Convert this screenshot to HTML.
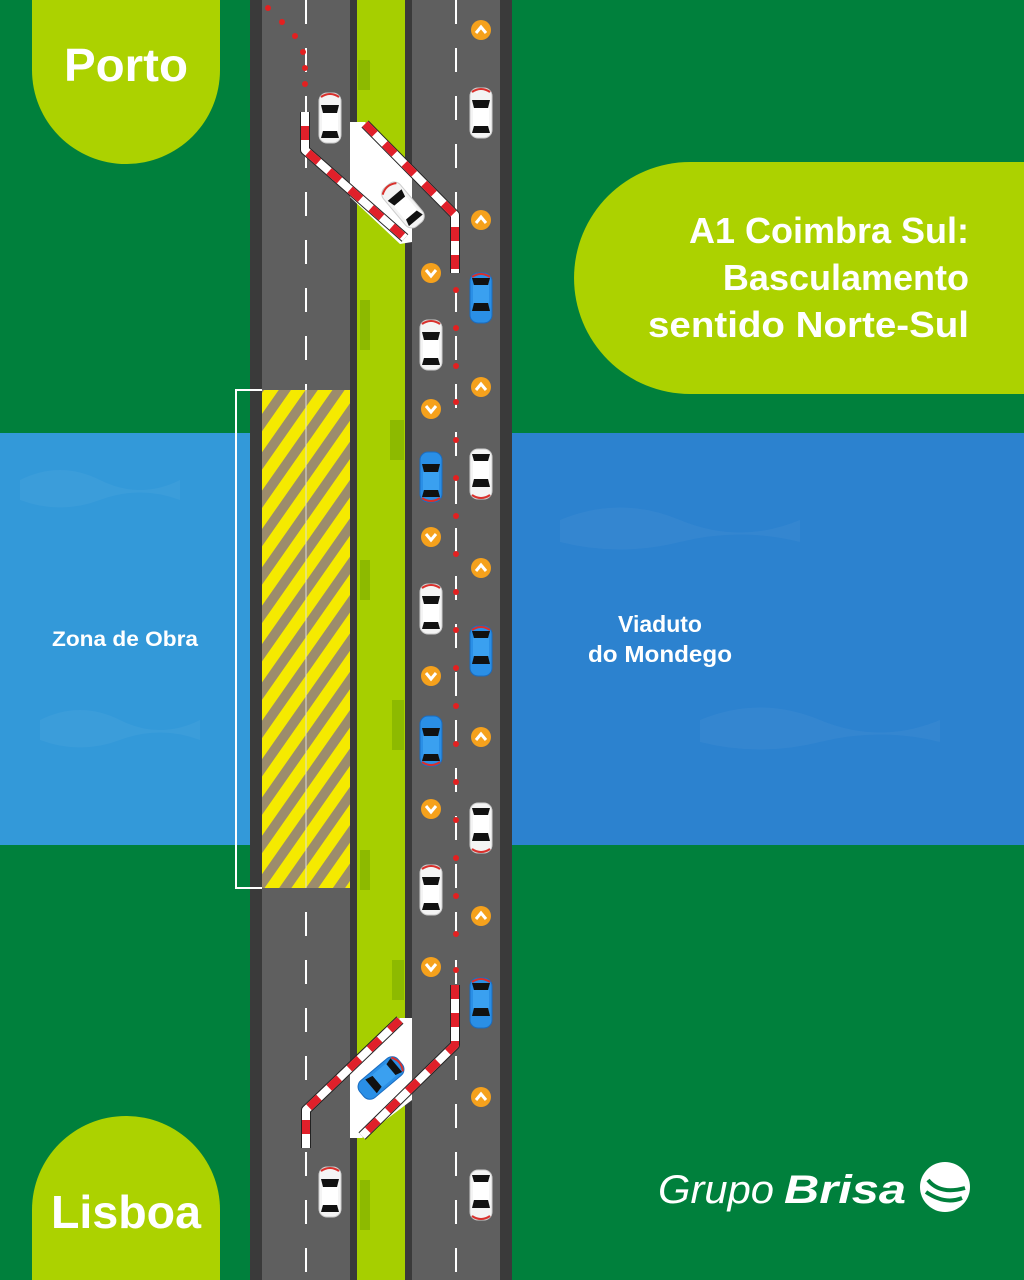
<!DOCTYPE html>
<html><head><meta charset="utf-8"><style>
html,body{margin:0;padding:0;background:#00803c;}
svg{display:block}
text{font-family:"Liberation Sans",sans-serif;font-weight:bold;fill:#fff}
</style></head><body>
<svg width="1024" height="1280" viewBox="0 0 1024 1280" xmlns="http://www.w3.org/2000/svg">
<defs>
<pattern id="hatch" patternUnits="userSpaceOnUse" width="22" height="22" patternTransform="rotate(35)">
<rect width="22" height="22" fill="#9c8c6c"/><rect width="12" height="22" fill="#f5ea00"/>
</pattern>
<g id="carW">
<rect x="-11" y="-25" width="22" height="50" rx="8" fill="#f4f4f4" stroke="#ccc" stroke-width="1"/>
<path d="M-9,-21 Q0,-27 9,-21" stroke="#d9302c" stroke-width="2" fill="none"/>
<path d="M-9,-13 L9,-13 L7,-5 L-7,-5 Z" fill="#111"/>
<rect x="-8" y="-5" width="16" height="18" fill="#fff"/>
<path d="M-7,13 L7,13 L9,20 L-9,20 Z" fill="#111"/>
</g>
<g id="carB">
<rect x="-11" y="-25" width="22" height="50" rx="8" fill="#2a8fe6" stroke="#1a6cc0" stroke-width="1"/>
<path d="M-9,-13 L9,-13 L7,-5 L-7,-5 Z" fill="#111"/>
<rect x="-8" y="-5" width="16" height="18" fill="#3aa0f0"/>
<path d="M-7,13 L7,13 L9,20 L-9,20 Z" fill="#111"/>
<path d="M-9,21 Q0,27 9,21" stroke="#d9302c" stroke-width="2" fill="none"/>
</g>
<g id="up"><circle r="10" fill="#f5a11c"/><path d="M-5,3 L0,-3 L5,3" stroke="#fff" stroke-width="3" fill="none"/></g>
<g id="dn"><circle r="10" fill="#f5a11c"/><path d="M-5,-3 L0,3 L5,-3" stroke="#fff" stroke-width="3" fill="none"/></g>
</defs>
<rect width="1024" height="1280" fill="#00803c"/>
<rect x="0" y="433" width="250" height="412" fill="#3399d9"/>
<rect x="512" y="433" width="512" height="412" fill="#2c82cf"/>
<g fill="#ffffff" opacity="0.04">
<path d="M20,480 q40,-20 80,0 t80,0 v20 q-40,-15 -80,0 t-80,0z"/>
<path d="M560,520 q60,-25 120,0 t120,0 v22 q-60,-15 -120,0 t-120,0z"/>
<path d="M700,720 q60,-25 120,0 t120,0 v22 q-60,-15 -120,0 t-120,0z"/>
<path d="M40,720 q40,-20 80,0 t80,0 v20 q-40,-15 -80,0 t-80,0z"/>
</g>
<path d="M32,0 H220 V70 A94,94 0 0 1 32,70 Z" fill="#acd200"/>
<path d="M32,1280 H220 V1210 A94,94 0 0 0 32,1210 Z" fill="#acd200"/>
<path d="M1024,162 H690 A116,116 0 0 0 690,394 H1024 Z" fill="#acd200"/>
<rect x="250" y="0" width="262" height="1280" fill="#3a3a3a"/>
<rect x="262" y="0" width="88" height="1280" fill="#5f5f5f"/>
<rect x="412" y="0" width="88" height="1280" fill="#5f5f5f"/>
<rect x="357" y="0" width="48" height="1280" fill="#a6cf00"/>
<g fill="#8dba00">
<rect x="358" y="60" width="12" height="30"/><rect x="392" y="160" width="12" height="40"/><rect x="360" y="300" width="10" height="50"/><rect x="390" y="420" width="14" height="40"/><rect x="360" y="560" width="10" height="40"/><rect x="392" y="700" width="12" height="50"/><rect x="360" y="850" width="10" height="40"/><rect x="392" y="960" width="12" height="40"/><rect x="360" y="1180" width="10" height="50"/>
</g>
<line x1="306" y1="0" x2="306" y2="1280" stroke="#fff" stroke-width="2" stroke-dasharray="24,24"/>
<line x1="456" y1="0" x2="456" y2="1280" stroke="#fff" stroke-width="2" stroke-dasharray="24,24"/>
<rect x="262" y="390" width="88" height="498" fill="url(#hatch)"/>
<line x1="306" y1="390" x2="306" y2="888" stroke="#ddd" stroke-width="1"/>
<path d="M262,390 H236 V888 H262" stroke="#fff" stroke-width="2" fill="none"/>
<g fill="#e32020">
<circle cx="268" cy="8" r="3"/><circle cx="282" cy="22" r="3"/><circle cx="295" cy="36" r="3"/><circle cx="303" cy="52" r="3"/><circle cx="305" cy="68" r="3"/><circle cx="305" cy="84" r="3"/>
<circle cx="456" cy="290" r="3"/><circle cx="456" cy="328" r="3"/><circle cx="456" cy="366" r="3"/><circle cx="456" cy="402" r="3"/><circle cx="456" cy="440" r="3"/><circle cx="456" cy="478" r="3"/><circle cx="456" cy="516" r="3"/><circle cx="456" cy="554" r="3"/><circle cx="456" cy="592" r="3"/><circle cx="456" cy="630" r="3"/><circle cx="456" cy="668" r="3"/><circle cx="456" cy="706" r="3"/><circle cx="456" cy="744" r="3"/><circle cx="456" cy="782" r="3"/><circle cx="456" cy="820" r="3"/><circle cx="456" cy="858" r="3"/><circle cx="456" cy="896" r="3"/><circle cx="456" cy="934" r="3"/><circle cx="456" cy="970" r="3"/>
</g>
<polygon points="350,122 365,122 412,170 412,242 400,244 350,197" fill="#fff"/>
<polygon points="400,1018 412,1018 412,1100 362,1138 350,1138 350,1065" fill="#fff"/>
<g stroke-width="8" fill="none" stroke-linejoin="round">
<path d="M305,112 V150 L405,238" stroke="#222" stroke-width="10"/>
<path d="M305,112 V150 L405,238" stroke="#fff"/>
<path d="M305,112 V150 L405,238" stroke="#e0202a" stroke-dasharray="14,14" stroke-dashoffset="-14"/>
<path d="M365,124 L455,215 V273" stroke="#222" stroke-width="10"/>
<path d="M365,124 L455,215 V273" stroke="#fff"/>
<path d="M365,124 L455,215 V273" stroke="#e0202a" stroke-dasharray="14,14"/>
<path d="M306,1148 V1110 L400,1020" stroke="#222" stroke-width="10"/>
<path d="M306,1148 V1110 L400,1020" stroke="#fff"/>
<path d="M306,1148 V1110 L400,1020" stroke="#e0202a" stroke-dasharray="14,14" stroke-dashoffset="-14"/>
<path d="M455,985 V1045 L362,1136" stroke="#222" stroke-width="10"/>
<path d="M455,985 V1045 L362,1136" stroke="#fff"/>
<path d="M455,985 V1045 L362,1136" stroke="#e0202a" stroke-dasharray="14,14"/>
</g>
<use href="#carW" transform="translate(330,118)"/>
<use href="#carW" transform="translate(481,113)"/>
<use href="#carW" transform="translate(403,205) rotate(-40)"/>
<use href="#carB" transform="translate(481,298) rotate(180)"/>
<use href="#carW" transform="translate(431,345)"/>
<use href="#carB" transform="translate(431,477)"/>
<use href="#carW" transform="translate(481,474) rotate(180)"/>
<use href="#carW" transform="translate(431,609)"/>
<use href="#carB" transform="translate(481,651) rotate(180)"/>
<use href="#carB" transform="translate(431,741)"/>
<use href="#carW" transform="translate(481,828) rotate(180)"/>
<use href="#carW" transform="translate(431,890)"/>
<use href="#carB" transform="translate(481,1003) rotate(180)"/>
<use href="#carB" transform="translate(381,1078) rotate(-130)"/>
<use href="#carW" transform="translate(330,1192)"/>
<use href="#carW" transform="translate(481,1195) rotate(180)"/>
<use href="#up" x="481" y="30"/><use href="#up" x="481" y="220"/><use href="#up" x="481" y="387"/><use href="#up" x="481" y="568"/><use href="#up" x="481" y="737"/><use href="#up" x="481" y="916"/><use href="#up" x="481" y="1097"/>
<use href="#dn" x="431" y="273"/><use href="#dn" x="431" y="409"/><use href="#dn" x="431" y="537"/><use href="#dn" x="431" y="676"/><use href="#dn" x="431" y="809"/><use href="#dn" x="431" y="967"/>
<text x="126" y="81" font-size="46" text-anchor="middle" textLength="124" lengthAdjust="spacingAndGlyphs">Porto</text>
<text x="126" y="1228" font-size="46" text-anchor="middle" textLength="150" lengthAdjust="spacingAndGlyphs">Lisboa</text>
<text x="969" y="243" font-size="36" text-anchor="end">A1 Coimbra Sul:</text>
<text x="969" y="290" font-size="36" text-anchor="end">Basculamento</text>
<text x="969" y="337" font-size="36" text-anchor="end" textLength="321" lengthAdjust="spacingAndGlyphs">sentido Norte-Sul</text>
<text x="125" y="646" font-size="21" text-anchor="middle" textLength="146" lengthAdjust="spacingAndGlyphs">Zona de Obra</text>
<text x="660" y="632" font-size="23" text-anchor="middle">Viaduto</text>
<text x="660" y="662" font-size="23" text-anchor="middle" textLength="144" lengthAdjust="spacingAndGlyphs">do Mondego</text>
<text x="658" y="1203" font-size="40" font-style="italic" style="font-weight:normal" textLength="116" lengthAdjust="spacingAndGlyphs">Grupo</text>
<text x="784" y="1203" font-size="40" font-style="italic" textLength="122" lengthAdjust="spacingAndGlyphs">Brisa</text>
<circle cx="945" cy="1187" r="25" fill="#fff"/>
<path d="M928,1180 Q940,1195 965,1188 M926,1192 Q945,1205 962,1198" stroke="#00803c" stroke-width="4" fill="none"/>
</svg>
</body></html>
